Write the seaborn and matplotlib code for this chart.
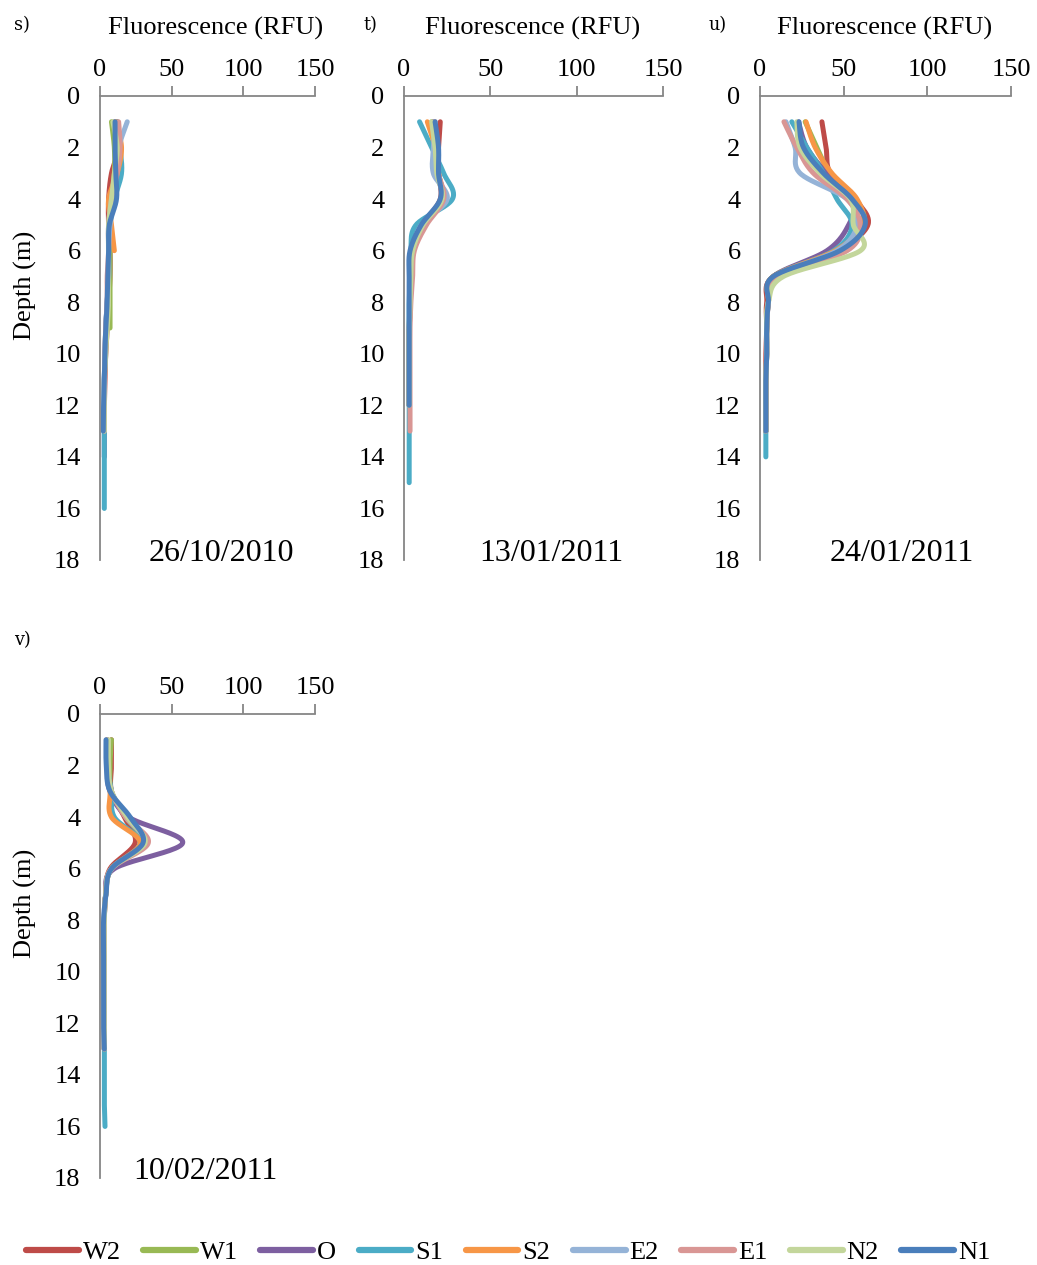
import numpy as np
import pandas as pd
import matplotlib
matplotlib.use("Agg")
import matplotlib.pyplot as plt
import seaborn as sns

# Stations, in drawing order
stations = ["W2", "W1", "O", "S1", "S2", "E2", "E1", "N2", "N1"]
colors = ["#BE4B48", "#98B954", "#7D5FA0", "#4BACC6", "#F79646",
          "#95B3D7", "#D99694", "#C3D69B", "#4A7EBB"]

# Fluorescence (RFU) profiles, one value per metre from 1 m downward
s_profiles = {
    "W2": [12, 13, 8, 6, 6, 7, 7, 6, 5, 4, 3.5, 3, 3],
    "W1": [8, 10, 10, 8, 7, 7, 7, 7, 7],
    "O":  [10, 12, 11, 8, 6, 6, 6, 5, 4, 3.5, 3, 3, 3, 3],
    "S1": [12, 14, 15, 10, 7, 6, 6, 5, 4, 3.5, 3, 3, 3, 3, 3, 3],
    "S2": [11, 15, 12, 6, 8, 10],
    "E2": [19, 13, 11, 9, 7, 6, 6, 5, 4, 3.5, 3, 3, 3],
    "E1": [13, 14, 12, 8, 6, 6, 5, 5, 4, 3.5, 3, 3, 3],
    "N2": [9, 12, 10, 8, 6, 6, 6, 6, 5, 4, 3, 3, 3],
    "N1": [10.5, 10.5, 11, 11.5, 6.5, 6, 5.5, 5, 4, 3.5, 3, 2.5, 2.3],
}
t_profiles = {
    "W2": [21, 20, 20, 21, 11, 5, 4, 3.5, 3, 3, 3, 3],
    "W1": [16, 19, 20, 22, 11, 5, 4, 3.5, 3, 3, 3, 3],
    "O":  [17, 19, 20, 22, 11, 5, 4, 3.5, 3, 3, 3, 3],
    "S1": [9, 16, 23, 28, 7, 4, 3.5, 3, 3, 3, 3, 3, 3, 3, 3],
    "S2": [13.5, 18, 20, 22, 11, 5, 4, 3.5, 3, 3, 3, 3],
    "E2": [18, 17, 17, 25, 10, 5, 4, 3.5, 3, 3, 3, 3],
    "E1": [18, 19, 20, 23, 13, 6, 5, 4, 3.5, 3.5, 3.5, 3.5, 3.5],
    "N2": [16, 18, 19, 22, 11, 5, 4, 3.5, 3, 3, 3, 3],
    "N1": [18, 20, 20, 21, 10, 3.5, 3, 3, 3, 3, 3, 3],
}
u_profiles = {
    "W2": [37, 39.5, 42, 57, 64.5, 46, 8, 4, 4, 3.5, 3.5, 3.5, 3.5],
    "W1": [27, 34, 42, 57, 62, 45, 8, 5, 4, 4, 3.5, 3.5, 3.5],
    "O":  [23, 28, 40, 56, 53, 40, 8, 5, 4, 4, 3.5, 3.5, 3.5],
    "S1": [19, 28, 38, 46, 55, 44, 8, 5, 4, 4, 3.5, 3.5, 3.5, 3.5],
    "S2": [27.5, 33, 43, 58, 61, 45, 8, 5, 4, 4, 3.5, 3.5, 3.5],
    "E2": [15.5, 21, 24, 52, 58, 46, 9, 5, 4, 4, 3.5, 3.5, 3.5],
    "E1": [14.3, 22, 32, 52, 59.8, 52, 10, 5, 4, 4, 3.5, 3.5, 3.5],
    "N2": [22, 24, 36, 54, 55.8, 60, 14, 5, 4, 4, 3.5, 3.5, 3.5],
    "N1": [23.3, 26, 38, 55, 62.8, 47.8, 8, 5, 4, 4, 3.5, 3.5, 3.5],
}
v_profiles = {
    "W2": [8, 8, 8, 17, 24.5, 7, 4, 3, 3, 3, 3, 3, 3],
    "W1": [8, 7, 8, 18, 30, 8, 4, 3, 3, 3, 3, 3, 3],
    "O":  [5, 5, 7, 20, 57.7, 10, 4, 3, 3, 3, 3, 3, 3],
    "S1": [5, 5, 8, 10, 28, 8, 4, 3, 3, 3, 3, 3, 3, 3, 3, 3.5],
    "S2": [5, 5, 7, 8, 28, 8, 4, 3, 3, 3, 3, 3, 3],
    "E2": [5, 5, 8, 18, 31, 8, 4, 3, 3, 3, 3, 3, 3],
    "E1": [5, 5, 8, 18, 33.7, 8, 4, 3, 3, 3, 3, 3, 3],
    "N2": [6, 6, 8, 19, 31.4, 8, 4, 3, 3, 3, 3, 3, 3],
    "N1": [4.2, 4.4, 7, 21, 30, 8, 4.2, 2.5, 2.5, 2.5, 2.5, 2.5, 3],
}

panel_letters = ["s)", "t)", "u)", "v)"]
dates = ["26/10/2010", "13/01/2011", "24/01/2011", "10/02/2011"]
x_ticks = [0, 50, 100, 150]
y_ticks = [0, 2, 4, 6, 8, 10, 12, 14, 16, 18]


def smooth(x, y, n=24):
    """Catmull-Rom spline through the measured points (smoothed line)."""
    p = np.column_stack([x, y]).astype(float)
    if len(p) < 3:
        return p[:, 0], p[:, 1]
    p = np.vstack([p[0], p, p[-1]])
    out = []
    t = np.linspace(0, 1, n, endpoint=False)[:, None]
    for i in range(1, len(p) - 2):
        p0, p1, p2, p3 = p[i - 1], p[i], p[i + 1], p[i + 2]
        seg = 0.5 * ((2 * p1) + (-p0 + p2) * t
                     + (2 * p0 - 5 * p1 + 4 * p2 - p3) * t ** 2
                     + (-p0 + 3 * p1 - 3 * p2 + p3) * t ** 3)
        out.append(seg)
    out.append(p[-2][None, :])
    out = np.vstack(out)
    return out[:, 0], out[:, 1]


def build_frame(profiles):
    rows = []
    for st in stations:
        vals = profiles[st]
        depth = np.arange(1, len(vals) + 1)
        xs, ys = smooth(vals, depth)
        rows.append(pd.DataFrame({"rfu": xs, "depth": ys, "station": st}))
    return pd.concat(rows, ignore_index=True)


sns.set_style("white")
plt.rcParams["font.family"] = ["Liberation Serif", "DejaVu Serif"]
plt.rcParams["text.color"] = "black"
plt.rcParams["axes.labelcolor"] = "black"

W, H = 1037, 1265
fig = plt.figure(figsize=(W / 100, H / 100), dpi=100)


def fx(px):
    return px / W


def fy(py):
    return 1 - py / H


# (left px, right px, top px, bottom px)
boxes = [(100, 315, 96, 560), (404, 663, 96, 560),
         (760, 1011, 96, 560), (100, 315, 714, 1178)]
all_profiles = [s_profiles, t_profiles, u_profiles, v_profiles]
date_x = [0.563, 0.568, 0.566, 0.49]
xlabel_x = [0.537, 0.498, 0.498]
gray = "#868686"

for i, (box, prof) in enumerate(zip(boxes, all_profiles)):
    l, r, t, b = box
    ax = fig.add_axes([fx(l), fy(b), fx(r) - fx(l), fy(t) - fy(b)])
    df = build_frame(prof)
    sns.lineplot(data=df, x="rfu", y="depth", hue="station",
                 hue_order=stations, palette=colors, sort=False,
                 estimator=None, units="station", linewidth=3.6,
                 solid_capstyle="round", legend=False, ax=ax)
    ax.set_xlim(0, 150)
    ax.set_ylim(18, 0)
    ax.set_xticks(x_ticks)
    ax.set_yticks(y_ticks)
    ax.xaxis.tick_top()
    ax.xaxis.set_label_position("top")
    for side in ["right", "bottom"]:
        ax.spines[side].set_visible(False)
    for side in ["left", "top"]:
        ax.spines[side].set_color(gray)
        ax.spines[side].set_linewidth(1.3)
    ax.tick_params(axis="both", direction="out", length=7, width=1.3,
                   color=gray, labelsize=19, labelcolor="black")
    ax.tick_params(axis="x", pad=4)
    ax.tick_params(axis="y", pad=7)
    if i < 3:
        ax.set_xlabel("Fluorescence (RFU)", fontsize=19)
        ax.xaxis.set_label_coords(xlabel_x[i], (b - 28) / (b - t))
        ax.xaxis.label.set_va("center")
    else:
        ax.set_xlabel("")
    if i in (0, 3):
        ax.set_ylabel("Depth (m)", fontsize=19)
        ax.yaxis.set_label_coords((25 - l) / (r - l), (b - (t + 189)) / (b - t))
        ax.yaxis.label.set_va("center")
    else:
        ax.set_ylabel("")
    ax.text(date_x[i], 0.015, dates[i], transform=ax.transAxes,
            ha="center", va="center", fontsize=23)

# panel letters
for (px, py), lab in zip([(22, 25), (370, 25), (718, 25), (22, 640)],
                         panel_letters):
    fig.text(fx(px), fy(py), lab, ha="center", va="center", fontsize=14,
             family=["DejaVu Serif"], fontstretch="condensed")

handles = [plt.Line2D([], [], color=c, linewidth=4.5) for c in colors]
fig.legend(handles, stations, loc="center", ncol=9,
           bbox_to_anchor=(0.49, fy(1252)), frameon=False, fontsize=19,
           handlelength=2.0, handletextpad=0.15, columnspacing=0.85)

fig.savefig("out.png", dpi=100)
